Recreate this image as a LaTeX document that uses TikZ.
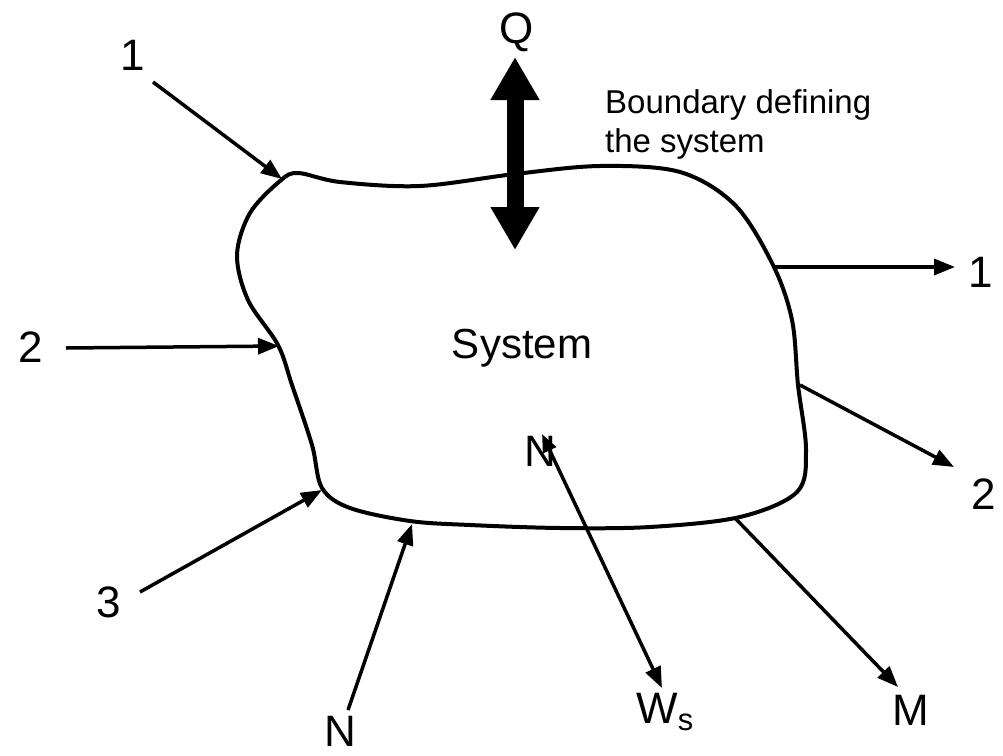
\documentclass[tikz,border=0pt]{standalone}
\usepackage{fontspec}
\setmainfont{Liberation Sans}
\usetikzlibrary{arrows.meta}
\begin{document}
\begin{tikzpicture}[x=1pt,y=-1pt,
  flow/.style={line width=3.5pt,-{Triangle[length=21pt,width=16pt]}},
  lbl/.style={font=\fontsize{44}{46}\selectfont,inner sep=0pt},
  heat/.style={line width=17pt,{Triangle[length=43pt,width=46pt]}-{Triangle[length=43pt,width=46pt]}},
  bnd/.style={line width=4pt,line join=round}]
\useasboundingbox (0,0) rectangle (1003,755);
% boundary
\draw[bnd] plot[smooth cycle,tension=0.55] coordinates {
 (298,173) (340,182) (420,186) (515,174) (600,166) (680,172) (735,205)
 (773,265) (792,320) (798,385) (806,450) (797,492) (740,517) (650,527)
 (560,528) (470,525) (410,521) (350,508) (322,488) (312,445) (292,385)
 (278,345) (248,300) (237,255) (250,213) (280,181)};
% points on the boundary
\coordinate (bL1) at (282,179);
\coordinate (bL2) at (279,346);
\coordinate (bL3) at (322,490);
\coordinate (bN) at (412,524);
\coordinate (bM) at (735,518);
\coordinate (bR1) at (775,267);
\coordinate (bR2) at (800,385);
% free ends
\coordinate (sL1) at (153,82);
\coordinate (sL2) at (66,348);
\coordinate (sL3) at (140,592);
\coordinate (sN) at (348,710);
\coordinate (eM) at (898,687);
\coordinate (eR1) at (955,267);
\coordinate (eR2) at (954,467);
\coordinate (wTop) at (542,434);
\coordinate (wBot) at (662,688);
\coordinate (qTop) at (515,57);
\coordinate (qBot) at (515,250);
% labels
\node[lbl] (l1) at (133,55) {1};
\node[lbl] (l2) at (31,347) {2};
\node[lbl] (l3) at (109,602) {3};
\node[lbl] (lN) at (340,731) {N};
\node[lbl] (lNin) at (540,451) {N};
\node[lbl] (lW) at (665,712) {W\textsubscript{s}};
\node[lbl] (lM) at (911,710) {M};
\node[lbl] (r1) at (981,272) {1};
\node[lbl] (r2) at (984,494) {2};
\node[lbl] (lQ) at (517,32) {Q};
\node[font=\fontsize{33}{39}\selectfont,inner sep=0pt,anchor=base west] (bd1) at (605,113) {Boundary defining};
\node[font=\fontsize{33}{39}\selectfont,inner sep=0pt,anchor=base west] (bd2) at (605,152) {the system};
\node[font=\fontsize{42}{44}\selectfont,inner sep=0pt] (sys) at (522,348) {System};
% arrows
\draw[flow] (sL1) -- (bL1);
\draw[flow] (sL2) -- (bL2);
\draw[flow] (sL3) -- (bL3);
\draw[flow] (sN) -- (bN);
\draw[flow] (bM) -- (eM);
\draw[flow] (bR1) -- (eR1);
\draw[flow] (bR2) -- (eR2);
\draw[line width=3.5pt,{Triangle[length=18pt,width=14pt]}-{Triangle[length=21pt,width=16pt]}] (wTop) -- (wBot);
\draw[heat] (qTop) -- (qBot);
\end{tikzpicture}
\end{document}
